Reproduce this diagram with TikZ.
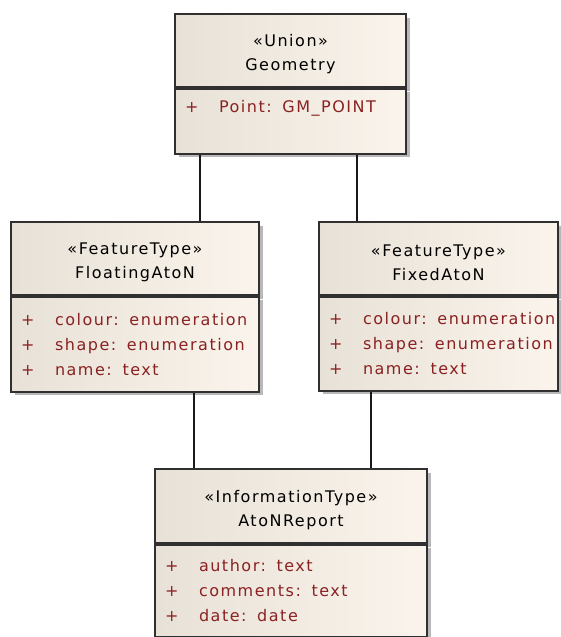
\documentclass[tikz,border=0pt]{standalone}
\usepackage{fontspec}
\newfontfamily\umlfont[LetterSpace=9.5]{DejaVu Sans}
\usetikzlibrary{positioning,shadows}
\definecolor{boxleft}{HTML}{E8E1D7}
\definecolor{boxright}{HTML}{FAF4EC}
\definecolor{boxline}{HTML}{303030}
\definecolor{attrred}{HTML}{8A2222}
\tikzset{
	head/.style={rectangle,draw=boxline,line width=1.7pt,left color=boxleft,right color=boxright,
		drop shadow={shadow xshift=3.5pt,shadow yshift=-3.5pt,fill=black!28,opacity=1},
		align=center,inner sep=0pt,font=\umlfont\fontsize{16}{24}\selectfont},
	body/.style={head,align=left,inner xsep=10pt,text=attrred,font=\umlfont\fontsize{16}{25}\selectfont},
	link/.style={draw=black!90,line width=1.6pt},
}
\newcommand{\attr}[1]{\mbox{\makebox[34pt][l]{+}#1}}
\newcommand{\headstrut}{\rule{0pt}{20pt}}
\begin{document}
\begin{tikzpicture}[x=1pt,y=-1pt]
	\useasboundingbox (0,0) rectangle (561,637);
	\clip (0,0) rectangle (561,637);

	% Union
	\node[head,minimum width=231pt,minimum height=73pt] (geometryhead) at (290.5,50.5) {\headstrut«Union»\\Geometry};
	\node[body,text width=211pt,minimum height=65pt,below=0pt of geometryhead] (geometry) {\rule{0pt}{16pt}\attr{Point:~~GM\_POINT}\\\strut};

	% feature types
	\node[head,minimum width=248pt,minimum height=73pt] (floatinghead) at (135,258.5) {\headstrut«FeatureType»\\FloatingAtoN};
	\node[body,text width=228pt,minimum height=95pt,below=0pt of floatinghead] (floating) {\attr{colour:~~enumeration}\\\attr{shape:~~enumeration}\\\attr{name:~~text}};

	\node[head,minimum width=239pt,minimum height=73pt] (fixedhead) at (438.5,258.5) {\headstrut«FeatureType»\\FixedAtoN};
	\node[body,text width=219pt,minimum height=94pt,below=0pt of fixedhead] (fixed) {\attr{colour:~~enumeration}\\\attr{shape:~~enumeration}\\\attr{name:~~text}};

	\draw[link] ([xshift=26pt]geometry.south west) -- ([xshift=26pt]geometry.south west |- floatinghead.north);
	\draw[link] ([xshift=-50pt]geometry.south east) -- ([xshift=-50pt]geometry.south east |- fixedhead.north);

	% information type
	\node[head,minimum width=272pt,minimum height=74pt] (atonhead) at (291,506) {\headstrut«InformationType»\\AtoNReport};
	\node[body,text width=252pt,minimum height=92pt,below=0pt of atonhead] (aton) {\attr{author:~~text}\\\attr{comments:~~text}\\\attr{date:~~date}};

	\draw[link] ([xshift=40pt]atonhead.north west |- floating.south) -- ([xshift=40pt]atonhead.north west);
	\draw[link] ([xshift=53pt]fixed.south west) -- ([xshift=53pt]fixed.south west |- atonhead.north);
\end{tikzpicture}
\end{document}
